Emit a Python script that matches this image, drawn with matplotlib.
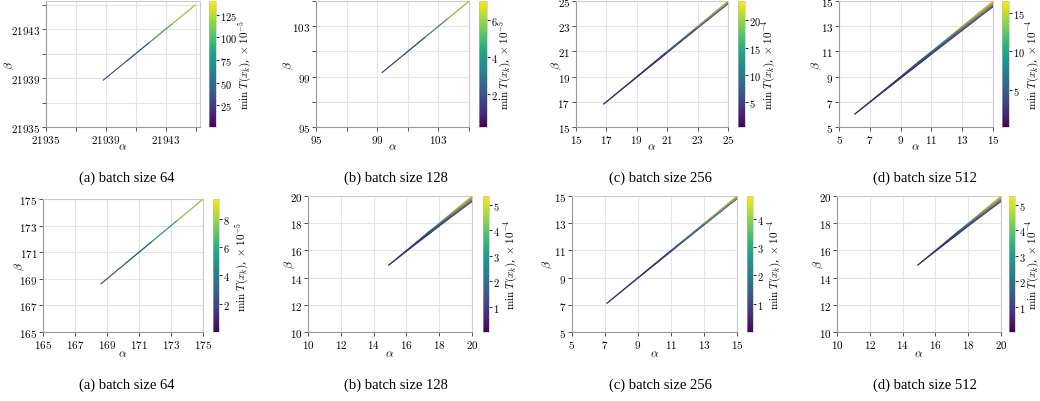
import numpy as np
import matplotlib
matplotlib.use("Agg")
import matplotlib.pyplot as plt
from matplotlib.ticker import FixedLocator, FuncFormatter

plt.rcParams["mathtext.fontset"] = "cm"
plt.rcParams["font.family"] = ["DejaVu Serif"]

W, H = 1040, 402

# ---- data: feasible (alpha, beta) wedges and min T(x_k) on their edges ----
# each panel: alpha knots, beta on the lower edge, beta on the upper edge,
# min T on lower / upper edge (in units of the colorbar scale)
captions = ["(a) batch size 64", "(b) batch size 128",
            "(c) batch size 256", "(d) batch size 512"]

# row 1
r1a_alpha = [21938.8, 21941.9, 21945.0]
r1a_beta_lo = [21938.8, 21941.89, 21944.98]
r1a_beta_hi = [21938.8, 21941.9, 21945.0]
r1a_t_lo = [1.0, 62.0, 128.0]
r1a_t_hi = [2.0, 70.0, 140.0]

r1b_alpha = [99.3, 102.15, 105.0]
r1b_beta_lo = [99.3, 102.14, 104.98]
r1b_beta_hi = [99.3, 102.15, 105.0]
r1b_t_lo = [0.2, 3.0, 6.2]
r1b_t_hi = [0.2, 3.5, 7.0]

r1c_alpha = [16.8, 20.9, 25.0]
r1c_beta_lo = [16.8, 20.8, 24.78]
r1c_beta_hi = [16.8, 20.9, 25.0]
r1c_t_lo = [0.3, 3.0, 5.0]
r1c_t_hi = [0.3, 9.0, 23.6]

r1d_alpha = [6.0, 10.5, 15.0]
r1d_beta_lo = [6.0, 10.3, 14.55]
r1d_beta_hi = [6.0, 10.5, 15.0]
r1d_t_lo = [0.2, 1.5, 3.0]
r1d_t_hi = [0.2, 7.5, 16.5]

# row 2
r2a_alpha = [168.6, 171.8, 175.0]
r2a_beta_lo = [168.6, 171.79, 174.98]
r2a_beta_hi = [168.6, 171.8, 175.0]
r2a_t_lo = [0.1, 4.2, 8.6]
r2a_t_hi = [0.1, 4.7, 9.4]

r2b_alpha = [14.9, 17.45, 20.0]
r2b_beta_lo = [14.9, 17.28, 19.6]
r2b_beta_hi = [14.9, 17.45, 20.0]
r2b_t_lo = [0.05, 0.5, 1.0]
r2b_t_hi = [0.05, 2.3, 5.35]

r2c_alpha = [7.1, 11.05, 15.0]
r2c_beta_lo = [7.1, 10.97, 14.8]
r2c_beta_hi = [7.1, 11.05, 15.0]
r2c_t_lo = [0.05, 0.8, 1.5]
r2c_t_hi = [0.05, 2.0, 4.8]

r2d_alpha = [14.9, 17.45, 20.0]
r2d_beta_lo = [14.9, 17.28, 19.6]
r2d_beta_hi = [14.9, 17.45, 20.0]
r2d_t_lo = [0.05, 0.5, 1.0]
r2d_t_hi = [0.05, 2.3, 5.35]

# axis ranges, tick positions, labelled ticks, colour ranges and exponents
r1_lims = [(21935, 21945.3), (95, 105), (15, 25), (5, 15)]
r1_ticks = [list(range(21935, 21946, 2)), list(range(95, 106, 2)),
            list(range(15, 26, 2)), list(range(5, 16, 2))]
r1_labelled = [[21935, 21939, 21943], [95, 99, 103],
               list(range(15, 26, 2)), list(range(5, 16, 2))]
r1_cbar_range = [(1, 140), (0.2, 7.0), (0.3, 23.6), (0.1, 16.6)]
r1_cbar_ticks = [[25, 50, 75, 100, 125], [2, 4, 6], [5, 10, 15, 20], [5, 10, 15]]
r1_exp = [-5, -5, -4, -4]

r2_lims = [(165, 175), (10, 20), (5, 15), (10, 20)]
r2_ticks = [list(range(165, 176, 2)), list(range(10, 21, 2)),
            list(range(5, 16, 2)), list(range(10, 21, 2))]
r2_labelled = r2_ticks
r2_cbar_range = [(0.0, 9.4), (0.0, 5.35), (0.0, 4.8), (0.0, 5.35)]
r2_cbar_ticks = [[2, 4, 6, 8], [1, 2, 3, 4, 5], [1, 2, 3, 4], [1, 2, 3, 4, 5]]
r2_exp = [-5, -4, -4, -4]

r1_data = [
    (r1a_alpha, r1a_beta_lo, r1a_beta_hi, r1a_t_lo, r1a_t_hi),
    (r1b_alpha, r1b_beta_lo, r1b_beta_hi, r1b_t_lo, r1b_t_hi),
    (r1c_alpha, r1c_beta_lo, r1c_beta_hi, r1c_t_lo, r1c_t_hi),
    (r1d_alpha, r1d_beta_lo, r1d_beta_hi, r1d_t_lo, r1d_t_hi),
]
r2_data = [
    (r2a_alpha, r2a_beta_lo, r2a_beta_hi, r2a_t_lo, r2a_t_hi),
    (r2b_alpha, r2b_beta_lo, r2b_beta_hi, r2b_t_lo, r2b_t_hi),
    (r2c_alpha, r2c_beta_lo, r2c_beta_hi, r2c_t_lo, r2c_t_hi),
    (r2d_alpha, r2d_beta_lo, r2d_beta_hi, r2d_t_lo, r2d_t_hi),
]

# ---- layout in pixels ----
# axes (left, right, top, bottom), colorbar (left, right)
r1_axes_px = [(46, 200, 2, 128), (316, 469, 2, 128), (576, 728, 2, 128), (839, 993, 2, 128)]
r1_cbar_px = [(209, 216), (479, 487), (738, 745), (1002, 1009)]
r2_axes_px = [(43, 203, 200, 333), (308, 472, 197, 333), (572, 737, 197, 333), (837, 1001, 197, 333)]
r2_cbar_px = [(213, 219), (483, 489), (747, 753), (1009, 1015)]
# centres of the beta labels (x), alpha labels (y) and colorbar labels (x)
r1_beta_x = [10, 289, 557, 817]
r2_beta_x = [20, 290, 548, 819]
alpha_y = [147, 354]
r1_cblabel_x = [245, 505, 769, 1033]
r2_cblabel_x = [242, 511, 775, 1033]
caption_x = [127, 396, 660, 925]
caption_y = [178, 385]
# opacity of the very thin single-line bands
r1_mesh_alpha = [0.7, 0.8, 1.0, 1.0]
r2_mesh_alpha = [0.75, 1.0, 1.0, 1.0]


def rect(l, r, t, b):
    return [l / W, 1 - b / H, (r - l) / W, (b - t) / H]


def num_fmt(labelled):
    def f(v, pos):
        iv = int(round(v))
        return f"${iv}$" if iv in labelled else ""
    return FuncFormatter(f)


fig = plt.figure(figsize=(W / 100, H / 100), dpi=100)

rows = [
    (r1_data, r1_lims, r1_ticks, r1_labelled, r1_cbar_range, r1_cbar_ticks, r1_exp,
     r1_axes_px, r1_cbar_px, r1_beta_x, r1_cblabel_x, r1_mesh_alpha),
    (r2_data, r2_lims, r2_ticks, r2_labelled, r2_cbar_range, r2_cbar_ticks, r2_exp,
     r2_axes_px, r2_cbar_px, r2_beta_x, r2_cblabel_x, r2_mesh_alpha),
]

for ri, (data, lims, ticks, labelled, crange, cticks, exps, axpx, cbpx, betax, cblx, malpha) in enumerate(rows):
    for i in range(4):
        l, r, t, b = axpx[i]
        ax = fig.add_axes(rect(l, r, t, b))
        alpha, beta_lo, beta_hi, t_lo, t_hi = (np.asarray(v, float) for v in data[i])
        X = np.vstack([alpha, alpha])
        Y = np.vstack([beta_lo, beta_hi])
        C = np.vstack([t_lo, t_hi])
        mesh = ax.pcolormesh(X, Y, C, shading="gouraud", cmap="viridis",
                             vmin=crange[i][0], vmax=crange[i][1], zorder=3,
                             alpha=malpha[i])
        ax.set_xlim(*lims[i])
        ax.set_ylim(*lims[i])
        for axis in (ax.xaxis, ax.yaxis):
            axis.set_major_locator(FixedLocator(ticks[i]))
            axis.set_major_formatter(num_fmt(labelled[i]))
        ax.grid(True, color="#e3e3e3", linewidth=0.8, zorder=0)
        ax.set_axisbelow(True)
        for side in ("top", "right"):
            ax.spines[side].set_color("#cccccc")
        for side in ("left", "bottom"):
            ax.spines[side].set_color("#999999")
        for sp in ax.spines.values():
            sp.set_linewidth(0.8)
        ax.tick_params(length=3, width=0.6, color="#333333", labelsize=8, pad=1)

        ax.set_xlabel(r"$\alpha$", fontsize=8.5)
        ax.xaxis.set_label_coords(0.5, -(alpha_y[ri] - b) / (b - t))
        ax.xaxis.label.set_va("center")
        ax.set_ylabel(r"$\beta$", fontsize=8.5)
        ax.yaxis.set_label_coords((betax[i] - l) / (r - l), 0.5)
        ax.yaxis.label.set_va("center")

        cl, cr = cbpx[i]
        cax = fig.add_axes(rect(cl, cr, t, b))
        cb = fig.colorbar(mesh, cax=cax, alpha=1.0)
        cb.solids.set_alpha(1.0)
        cb.set_ticks(cticks[i])
        cb.ax.yaxis.set_major_formatter(FuncFormatter(lambda v, p: f"${v:g}$"))
        cb.ax.tick_params(length=2, width=0.6, labelsize=7.5, pad=0.8)
        cb.outline.set_linewidth(0.4)
        cb.outline.set_edgecolor("#bbbbbb")
        cb.set_label(r"$\min\ T(x_k)$, $\times\ 10^{%d}$" % exps[i], fontsize=8)
        cb.ax.yaxis.set_label_coords((cblx[i] - cl) / (cr - cl), 0.5)
        cb.ax.yaxis.label.set_va("center")

        fig.text(caption_x[i] / W, 1 - caption_y[ri] / H, captions[i],
                 ha="center", va="center", fontsize=10.5, family="Liberation Serif")

fig.savefig("out.png", dpi=100)
